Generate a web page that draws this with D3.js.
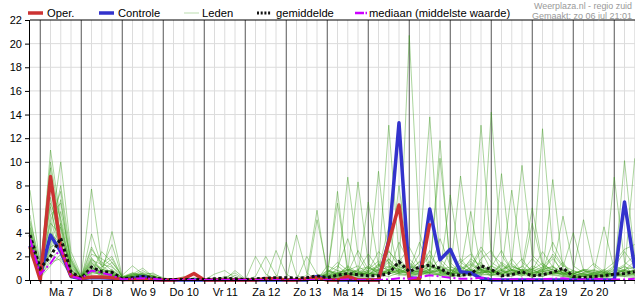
<!DOCTYPE html>
<html>
<head>
<meta charset="utf-8">
<script src="https://cdn.jsdelivr.net/npm/d3@7"></script>
<style>
  body { margin: 0; background: #fff; }
  svg text { font-family: "Liberation Sans", Arial, sans-serif; }
</style>
</head>
<body>
<div id="chart"></div>
<script>
// 6-hourly steps, index 0 = zo 6 jul 18:00
const dayLabels = ["Ma 7", "Di 8", "Wo 9", "Do 10", "Vr 11", "Za 12", "Zo 13",
                   "Ma 14", "Di 15", "Wo 16", "Do 17", "Vr 18", "Za 19", "Zo 20"];
const yTicks = [0, 2, 4, 6, 8, 10, 12, 14, 16, 18, 20, 22];

// Oper. (stops after Wo 16)
const oper = [2.8, 0,8.75,2.7,0.35, 0.15,0.25,0.25,0.2, 0.05,0.05,0.05,0.05, 0,0,0.1,0.55,
  0,0,0,0, 0,0,0.1,0.1, 0,0,0.1,0.2, 0,0,0.3,0, 0,0,3.2,6.35, 0.1,0.1,4.8];

const controle = [2.9, 0.4,3.8,2.4,0.3, 0.1,0.2,0.2,0.15, 0.05,0.1,0.3,0.05, 0,0,0,0,
  0,0,0,0, 0,0,0,0, 0,0,0,0.3, 0.05,0,0,0, 0,0,3.3,13.3, 0.2,0.1,6.0,1.7,
  2.6,0.7,0.6,0.15, 0,0,0,0, 0,0,0,0, 0,0,0,0, 0,6.6,1.0];

const gemiddelde = [3.8, 1.0,2.0,3.55,0.7, 0.15,1.1,0.7,0.65, 0.1,0.2,0.3,0.2, 0.05,0.05,0.05,0.05,
  0.05,0.1,0.15,0.1, 0.05,0.1,0.15,0.2, 0.2,0.15,0.2,0.35, 0.2,0.4,0.55,0.45, 0.35,0.35,0.55,1.55,
  0.7,1.1,1.25,1.0, 0.45,0.4,0.5,1.2, 0.9,0.35,0.45,0.7, 0.35,0.45,0.65,1.0, 0.3,0.2,0.3,0.35,
  0.5,0.55,0.7];

const mediaan = [3.5, 0.5,1.4,2.7,0.3, 0.1,0.8,0.6,0.4, 0.05,0.1,0.15,0.1, 0,0,0,0,
  0,0,0,0, 0,0,0,0, 0,0,0,0, 0,0,0.05,0, 0,0,0.05,0.15, 0.1,0.25,0.4,0.3,
  0.2,0.1,0.1,0.2, 0.1,0.05,0.05,0.1, 0.05,0.05,0.1,0.15, 0.05,0.05,0.1,0.05, 0.05,0.05,0.1];

// ensemble members (Leden)
const leden = [
  [3.5, 0.4,11,5,0.8, 0.1,1.2,0.6,0.4, 0.1,0.2,0.4,0.3, 0,0,0.1,0, 0,0.2,0,0, 0,0,0,0, 0,0,0,0.3, 0.5,0.4,1.2,0.6, 0.8,2.4,1.5,0.6, 20.7,4,1.2,0.8, 0.5,1.5,2.2,0.9, 0.4,0.6,1.8,0.7, 0.2,1.1,2,0.5, 0.2,0.1,0.4,0.8, 1.5,2.6,3],
  [7.6, 1.2,3.5,2.8,0.6, 0.2,1.8,0.9,0.7, 0.2,0.5,0.3,0.1, 0,0.1,0,0, 0,0,0.3,0.1, 0,0,0,0.2, 0,0,0,0, 0.2,1,3.5,0.8, 0.4,1.2,13.1,2, 0.5,1.2,0.8,3.5, 1.2,0.6,0.3,1.8, 2.5,0.8,0.4,1.2, 0.5,0.3,0.6,1.5, 0.3,0.1,0.2,0.3, 0.6,1.2,0.4],
  [4.2, 0.6,10,4.5,1.2, 0.3,7.7,1.5,0.8, 0.2,0.3,0.6,0.2, 0,0,0,0.1, 0,0,0,0, 0,0.3,2,0.4, 0,0,0,0, 0.6,1.5,0.8,0.4, 1.2,0.5,2.5,1.1, 0.8,2.2,13.8,1.5, 0.6,0.9,1.4,0.8, 0.3,1.5,0.9,0.4, 0.8,2.4,1.1,0.6, 0.2,0.3,0.2,0.1, 0.5,0.8,1.6],
  [2.8, 0.3,4.2,10,2.4, 0.4,0.8,0.5,4.1, 0.3,0.2,0.1,0.4, 0,0,0,0, 0,0,0,0, 0,0,0,0, 0,0,0.4,5.9, 0.4,0.2,0.5,0.8, 0.3,0.6,1.8,0.9, 0.5,0.3,0.8,10.3, 1.5,0.6,0.9,2.5, 0.8,0.4,0.6,0.3, 1.2,0.8,3.2,1.4, 0.2,0.4,0.6,0.9, 0.4,0.6,0.8],
  [3.0, 0.1,8,3.2,0.5, 0,1,0.8,0.5, 0.1,0.4,0.8,0.3, 0.1,0,0,0, 0,0.5,0.8,0.2, 0,0,0,0, 0,0,0,0.2, 0.8,0.5,8.7,2.1, 0.6,0.4,0.8,1.5, 2.8,1.1,0.6,0.9, 0.7,0.5,1.1,13.1, 2.2,1.4,0.6,0.5, 0.9,0.4,0.7,0.5, 0.3,0.6,1.4,0.7, 0.4,0.3,0.5],
  [2.5, 0.8,2.2,3.5,0.9, 0.1,3.9,1.2,0.6, 0.1,0.3,0.2,0.1, 0,0,0,0.2, 0.1,0,0,0, 0,0,0,2.5, 0.5,0,0,0, 0,0.3,0.6,8.3, 1.4,0.7,0.5,0.8, 0.6,0.8,1.5,0.7, 0.4,1.8,0.8,0.6, 14.2,2.1,0.8,0.5, 0.6,0.9,1.8,0.7, 0.5,0.8,0.6,0.4, 1.1,2.4,1.2],
  [3.8, 0.5,5.5,6.5,1.5, 0.2,0.6,2.4,1.5, 0.4,1.2,0.5,0.2, 0,0,0.3,0, 0,0,0,0, 0,0,0,0, 3.2,0.4,0,0, 0.3,0.4,0.2,0.5, 6.6,1.2,0.8,0.5, 0.3,0.6,0.9,1.8, 0.9,0.5,1.8,1.2, 0.6,0.8,1.5,9.7, 2.1,1.2,0.9,0.4, 0.2,0.3,0.6,0.4, 0.8,1.3,2.1],
  [4.5, 1.0,6.2,2.1,0.4, 0.1,1.5,0.4,0.9, 0.2,0.1,0.3,0.2, 0,0,0,0, 0,0,0.2,0.6, 0,0,0,0, 0,3.8,0.6,0, 0,0.5,1.1,0.4, 0.5,0.8,0.6,3.2, 1.5,0.8,2.5,0.6, 0.4,0.3,0.8,1.5, 0.5,1.2,0.7,0.9, 0.6,12.8,2.5,1.2, 0.8,0.5,0.3,0.6, 0.4,0.5,0.9],
  [3.2, 0.2,3.8,8,2.0, 0.3,1.1,0.6,0.4, 0.2,0.6,0.4,0.2, 0,0,0,0, 0,0,0,0, 0,0,0,0, 0,0,0,0, 1.2,0.8,0.6,0.5, 0.6,9.2,1.2,0.9, 0.7,0.5,1.2,0.8, 0.6,8.8,2.4,0.8, 1.2,0.6,1.4,0.7, 1.8,0.9,1.1,0.6, 0.5,0.3,0.2,0.4, 0.6,0.9,1.1],
  [2.2, 0.4,2.5,4.5,0.7, 0.1,0.9,0.3,0.5, 0,0.1,0.2,0, 0,0,0,0, 0,0,0,0, 0,2,0.5,0, 0,0,0,0, 0.4,6.5,0.9,0.5, 0.3,1.4,0.7,8, 0.9,0.6,0.5,0.4, 0.5,0.8,0.6,0.9, 0.4,0.7,7.6,1.5, 0.8,0.5,8.5,0.9, 0.6,0.8,0.4,0.3, 8.7,1.5,0.9],
  [5.5, 0.7,4.8,3.8,1.1, 0.2,2.2,1.8,1.2, 0.3,0.4,0.6,0.5, 0.2,0,0,0, 0,0,0,0, 0,0,0,0, 0,0,0,0, 0.2,0.3,0.4,0.6, 0.8,1.1,2.4,1.5, 0.9,0.7,1.2,0.6, 7.2,1.5,0.9,0.5, 0.8,9,1.2,0.8, 0.5,0.7,0.9,5.4, 1.2,0.6,0.4,0.3, 0.5,10.1,1.8],
  [3.9, 0.3,7,2.5,0.6, 0.1,0.8,0.6,0.3, 0.1,0.3,0.2,0.1, 0,0,0,0, 0,0,0,0, 0,0,0,0, 0,0,2,0.5, 0.3,0.6,0.5,0.9, 1.1,0.6,0.9,1.2, 0.6,0.4,0.7,1.1, 0.8,0.9,1.6,0.7, 0.9,0.5,0.8,1.1, 6.1,1.4,0.7,0.5, 0.8,5.1,1.2,0.6, 0.4,0.8,10.3],
  [2.9, 0.6,3,5.8,1.8, 0.2,1.4,1.0,3.0, 0.2,0.5,1.0,0.3, 0.1,0,0,0, 0,0,0,0.8, 0.1,0,0,0, 0,0,0,0, 0,0.4,0.8,1.2, 0.5,0.9,4.5,0.6, 1.8,0.8,0.6,0.4, 0.3,0.5,1.1,2.8, 1.5,0.9,0.6,0.7, 0.4,0.6,2.2,1.1, 4,0.8,0.5,0.4, 0.3,0.6,0.8],
  [3.4, 0.2,1.8,2.6,0.5, 0,0.6,0.9,0.6, 0.1,0.2,0.1,0.2, 0,0,0,0, 0,0,0,0, 0,0,0,0, 0,0,0,0, 0.5,0.8,0.3,0.6, 0.4,0.5,0.8,0.5, 1.2,0.9,0.6,0.8, 0.5,0.7,0.9,0.6, 0.8,0.5,0.9,0.6, 0.4,0.8,0.5,0.3, 0.2,0.4,0.6,4.5, 0.9,0.7,0.5],
  [4.0, 0.9,5,7.5,1.4, 0.3,1.9,0.7,0.8, 0.2,0.3,0.5,0.2, 0,0.1,0,0, 0,0,0,0, 0,0,0,0, 0,0,0,0, 0.6,1.2,0.5,0.8, 2.2,0.9,0.6,1.4, 0.8,3.2,0.9,0.6, 0.5,0.6,0.8,0.4, 1.2,0.8,0.5,0.9, 0.7,1.1,0.6,0.8, 0.5,0.9,0.8,0.6, 1.2,0.8,0.6],
  [2.6, 0.1,2.8,3.2,0.3, 0.1,1.1,0.5,0.6, 0.1,0.2,0.3,0.1, 0,0,0,0, 0,0,0,0, 0,0,0,0, 0,0,0,5.1, 0.9,0.4,0.6,0.3, 0.4,0.7,0.5,0.9, 0.6,0.8,1.6,0.7, 0.4,1.2,0.6,0.9, 0.6,0.4,1.1,0.8, 0.9,0.5,0.7,0.4, 0.6,0.3,0.5,0.8, 0.3,0.5,0.4],
  [3.6, 0.5,6.5,4.2,0.9, 0.2,2.6,1.4,2.0, 0.2,0.4,0.5,0.2, 0,0,0,0, 0,0,0,0, 0,0,0,0, 0,0,0,0, 0.4,0.3,0.5,0.4, 0.7,0.9,1.8,0.5, 0.9,0.7,0.5,11.8, 0.8,0.5,0.6,1.1, 0.6,0.8,0.5,0.7, 0.5,0.9,0.6,0.5, 0.8,0.4,0.3,0.5, 0.6,0.8,0.5],
  [3.1, 0.3,2.2,1.6,0.4, 0.1,0.7,0.4,0.3, 0,0.1,0.2,0.1, 0,0,0,0, 0,0,0,0, 0,0,0,0, 0,0,0,0, 0.2,0.4,0.3,0.2, 0.3,0.5,0.6,0.4, 0.5,0.6,0.4,0.5, 0.3,0.4,0.6,0.5, 0.4,0.3,0.5,0.4, 0.3,0.5,0.4,0.3, 0.2,0.3,0.4,0.2, 0.3,0.4,0.3],
  [4.8, 0.8,9.5,3.5,1.6, 0.2,1.6,0.8,1.5, 0.3,0.6,0.4,0.3, 0.1,0,0,0, 0,0,0,0.4, 0,0,0,0, 0,0,0,0, 0.7,0.5,0.6,2.5, 0.9,1.6,0.8,0.6, 1.1,0.9,2.1,0.8, 0.6,0.9,5.8,0.9, 1.1,2.5,0.8,0.6, 4.8,1.2,0.6,0.8, 0.5,0.9,0.7,0.4, 0.6,0.8,0.7],
  [3.3, 0.4,4,3,0.8, 0.1,0.9,0.7,0.5, 0.1,0.3,0.2,0.2, 0,0,0,0, 0,0,0,0, 0,0,0,0, 0,0,0,0, 0.3,7.5,0.4,0.5, 0.6,0.4,0.9,0.7, 0.5,0.8,0.6,0.5, 0.9,0.6,0.4,0.8, 0.7,0.5,0.9,0.6, 0.4,0.6,0.5,0.8, 0.3,0.5,0.4,0.6, 0.5,0.4,0.6],
  [2.4, 0.2,1.2,2.2,0.6, 0.1,0.5,0.6,0.4, 0.1,0.2,0.1,0.1, 0,0,0,0, 0,0,0,0, 0,0,0,0, 0,0,0,0, 0.1,0.2,0.4,0.3, 0.2,0.4,0.3,0.6, 0.4,0.5,0.8,0.4, 0.6,0.3,0.5,0.4, 0.5,0.4,0.3,0.6, 0.4,0.3,0.6,0.4, 0.2,0.3,0.5,0.3, 0.4,0.3,0.2],
  [5.0, 1.5,3.2,6.8,1.0, 0.3,2.8,1.1,1.8, 0.2,0.5,0.4,0.6, 0.1,0,0,0, 0,0,0,0, 0,0,0,0, 0,0,0,0, 0.5,0.6,0.8,0.5, 0.7,1.3,1.1,0.9, 1.4,0.6,0.9,1.2, 0.8,1.1,0.7,0.9, 0.6,1.3,0.8,0.7, 0.9,1.4,0.8,0.6, 0.7,0.5,0.9,0.6, 0.8,1.1,0.9],
  [3.7, 0.6,2.8,4.8,1.3, 0.2,1.3,0.9,0.7, 0.1,0.3,0.4,0.2, 0,0,0,0, 0,0,0,0, 0,0,0,0, 0,0,0,0, 0.4,0.5,0.9,0.6, 0.5,0.8,1.5,0.7, 0.6,1.6,0.8,0.5, 2.6,0.7,0.5,0.6, 0.9,0.6,0.8,1.8, 0.6,0.8,1.2,0.5, 0.4,0.6,0.8,0.5, 0.5,0.9,0.6],
  [2.7, 0.3,1.5,1.8,0.5, 0,0.8,0.5,0.4, 0.1,0.2,0.2,0.1, 0,0,0,0, 0,0,0,0, 0,0,0,0, 0,0,0,0, 0.3,0.4,0.5,0.4, 0.6,0.5,0.7,0.8, 0.5,0.7,0.6,0.8, 0.5,0.6,0.8,0.6, 0.7,0.5,0.6,0.5, 0.6,0.7,0.5,0.6, 0.4,0.5,0.3,0.4, 0.5,0.6,0.4],
  [4.4, 0.7,7.8,5.2,1.7, 0.2,1.7,1.3,1.1, 0.2,0.4,0.3,0.4, 0.1,0,0,0, 0,0,0,0, 0,0,0,0, 0,0,0,0, 0.8,0.6,0.9,0.7, 1.0,0.8,1.1,1.3, 0.9,1.5,0.7,0.9, 1.1,0.8,1.3,0.7, 0.6,0.9,1.2,0.8, 1.0,0.7,0.9,0.6, 0.5,0.8,0.6,0.7, 0.9,0.7,0.8]
];

const width = 635, height = 300;
const steps = d3.range(0, 60);

const x = d3.scaleLinear().domain([0, 59]).range([30, 30 + 59 * 10.25]);
const y = d3.scaleLinear().domain([0, 22]).range([280, 20]);

const svg = d3.select("#chart").append("svg")
    .attr("width", width)
    .attr("height", height);

// grid: light every 6 h, dark at midnight
const isMidnight = d => (d - 1) % 4 === 0;
svg.append("g").selectAll("line")
    .data(steps.filter(d => d > 0 && !isMidnight(d)))
    .join("line")
    .attr("x1", d => x(d)).attr("x2", d => x(d))
    .attr("y1", y(22)).attr("y2", y(0))
    .attr("stroke", "#dcdcdc");

svg.append("g").selectAll("line")
    .data(yTicks.filter(d => d > 0 && d < 22))
    .join("line")
    .attr("x1", x(0)).attr("x2", width)
    .attr("y1", d => y(d)).attr("y2", d => y(d))
    .attr("stroke", "#dcdcdc");

svg.append("g").selectAll("line")
    .data(steps.filter(isMidnight))
    .join("line")
    .attr("x1", d => x(d)).attr("x2", d => x(d))
    .attr("y1", y(22)).attr("y2", y(0))
    .attr("stroke", "#555");

// top border
svg.append("line")
    .attr("x1", x(0)).attr("x2", width)
    .attr("y1", y(22)).attr("y2", y(22))
    .attr("stroke", "#000");

const line = d3.line().x((d, i) => x(i)).y(d => y(d));

// members
svg.append("g").selectAll("path")
    .data(leden)
    .join("path")
    .attr("d", line)
    .attr("fill", "none")
    .attr("stroke", "#389a16")
    .attr("stroke-opacity", 0.42)
    .attr("stroke-width", 1);

svg.append("path").datum(controle)
    .attr("d", line).attr("fill", "none")
    .attr("stroke", "#3333cc").attr("stroke-width", 3.5)
    .attr("stroke-linejoin", "round");

svg.append("path").datum(oper)
    .attr("d", line).attr("fill", "none")
    .attr("stroke", "#cc3333").attr("stroke-width", 3.5)
    .attr("stroke-linejoin", "round");

svg.append("path").datum(gemiddelde)
    .attr("d", line).attr("fill", "none")
    .attr("stroke", "#111").attr("stroke-width", 3)
    .attr("stroke-dasharray", "3,2.5");

svg.append("path").datum(mediaan)
    .attr("d", line).attr("fill", "none")
    .attr("stroke", "#cc00ff").attr("stroke-width", 2)
    .attr("stroke-dasharray", "9,3,2,3");

// axes
const yAxis = svg.append("g")
    .attr("transform", `translate(${x(0)},0)`)
    .call(d3.axisLeft(y).tickValues(yTicks).tickSize(5).tickPadding(3));
yAxis.select(".domain").attr("d", `M-0.5,${y(22)}V${y(0)}`);

const xAxis = svg.append("g")
    .attr("transform", `translate(0,${y(0)})`)
    .call(d3.axisBottom(x).tickValues(steps).tickSize(4).tickFormat(""));
xAxis.select(".domain").attr("d", `M${x(0)},0.5H${width}`);

svg.append("g")
    .attr("transform", `translate(0,${y(0)})`)
    .call(d3.axisBottom(x).tickValues(d3.range(3, 56, 4)).tickSize(0).tickPadding(8)
        .tickFormat((d, i) => dayLabels[i]))
    .call(g => g.select(".domain").remove());

svg.selectAll(".tick text").attr("font-size", 11).attr("fill", "#000")
    .attr("font-family", "'Liberation Sans', Arial, sans-serif");

// legend
const legend = [
  { label: "Oper.", x: 28, tx: 19, color: "#cc3333", w: 3.5, len: 15, dash: null, op: 1 },
  { label: "Controle", x: 99, tx: 19, color: "#3333cc", w: 3.5, len: 15, dash: null, op: 1 },
  { label: "Leden", x: 184, tx: 18, color: "#389a16", w: 1, len: 15, dash: null, op: 0.35 },
  { label: "gemiddelde", x: 257, tx: 19, color: "#111", w: 3, len: 14, dash: "2,1.7", op: 1 },
  { label: "mediaan (middelste waarde)", x: 355, tx: 14, color: "#cc00ff", w: 2.5, len: 13, dash: "9,1.5,1.5,2", op: 1 }
];
const lg = svg.append("g").selectAll("g").data(legend).join("g")
    .attr("transform", d => `translate(${d.x},13)`);
lg.append("line")
    .attr("x1", 0).attr("x2", d => d.len)
    .attr("stroke", d => d.color).attr("stroke-width", d => d.w)
    .attr("stroke-opacity", d => d.op)
    .attr("stroke-dasharray", d => d.dash);
lg.append("text")
    .attr("x", d => d.tx)
    .attr("y", 4.3)
    .attr("font-size", 11.2)
    .text(d => d.label);

// source / timestamp
svg.append("text").attr("x", 632).attr("y", 8.8)
    .attr("text-anchor", "end").attr("font-size", 9).attr("fill", "#999")
    .attr("textLength", 98).attr("lengthAdjust", "spacingAndGlyphs")
    .text("Weerplaza.nl - regio zuid");
svg.append("text").attr("x", 632).attr("y", 18.6)
    .attr("text-anchor", "end").attr("font-size", 9).attr("fill", "#999")
    .attr("textLength", 100).attr("lengthAdjust", "spacingAndGlyphs")
    .text("Gemaakt: zo 06 jul 21:01");
</script>
</body>
</html>
